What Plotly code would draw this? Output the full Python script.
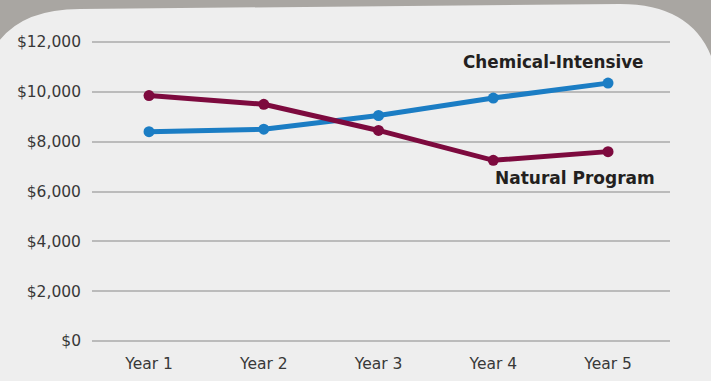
import plotly.graph_objects as go

years = ["Year 1", "Year 2", "Year 3", "Year 4", "Year 5"]
chemical = [8400, 8500, 9050, 9750, 10350]
natural = [9850, 9500, 8450, 7250, 7600]
y_ticks = [0, 2000, 4000, 6000, 8000, 10000, 12000]
y_tick_labels = ["$0", "$2,000", "$4,000", "$6,000", "$8,000", "$10,000", "$12,000"]

W, H = 711, 381
ML, MR, MT, MB = 92, 41, 40, 38
PW, PH = W - ML - MR, H - MT - MB

def px(x, y):
    return (x - ML) / PW, (H - MB - y) / PH

def pt(x, y):
    a, b = px(x, y)
    return f"{a:.5f},{b:.5f}"

panel = (
    f"M {pt(-20, 420)} L {pt(-20, 110)} Q {pt(-20, 9)} {pt(80, 9)} "
    f"L {pt(620, 4)} Q {pt(720, 4)} {pt(720, 110)} L {pt(720, 420)} Z"
)

BLUE = "#1b7dc4"
PURPLE = "#7d0a3e"

fig = go.Figure()
fig.add_trace(go.Scatter(
    x=list(range(len(years))), y=chemical, mode="lines+markers",
    line=dict(color=BLUE, width=5), marker=dict(color=BLUE, size=11),
    cliponaxis=False, showlegend=False, name="Chemical-Intensive"))
fig.add_trace(go.Scatter(
    x=list(range(len(years))), y=natural, mode="lines+markers",
    line=dict(color=PURPLE, width=5), marker=dict(color=PURPLE, size=11),
    cliponaxis=False, showlegend=False, name="Natural Program"))

fig.add_shape(type="path", path=panel, xref="paper", yref="paper",
              fillcolor="#eeeeee", line=dict(width=0), layer="below")

ann_font = dict(family="DejaVu Sans", size=16.8, color="#231f20")
ax, ay = px(553, 62)
fig.add_annotation(x=ax, y=ay, xref="paper", yref="paper", text="<b>Chemical-Intensive</b>",
                   showarrow=False, font=ann_font, xanchor="center", yanchor="middle")
bx, by = px(575, 178)
fig.add_annotation(x=bx, y=by, xref="paper", yref="paper", text="<b>Natural Program</b>",
                   showarrow=False, font=dict(ann_font, size=17), xanchor="center", yanchor="middle")

fig.update_layout(
    width=W, height=H,
    margin=dict(l=ML, r=MR, t=MT, b=MB, autoexpand=False),
    paper_bgcolor="#a9a6a2",
    plot_bgcolor="rgba(0,0,0,0)",
    font=dict(family="DejaVu Sans", size=15.5, color="#383838"),
    xaxis=dict(
        range=[-0.497, 4.54], tickmode="array",
        tickvals=list(range(len(years))), ticktext=years,
        showgrid=False, zeroline=False, showline=False, ticks="",
        ticklabelstandoff=9, fixedrange=True, automargin=False,
    ),
    yaxis=dict(
        range=[-80, 12080], tickmode="array", tickvals=y_ticks, ticktext=y_tick_labels,
        showgrid=True, gridcolor="#bbbbbb", gridwidth=1.5,
        zeroline=False, showline=False, ticks="", ticklabelstandoff=10,
        fixedrange=True, automargin=False,
    ),
)

fig.write_html("out.html")
